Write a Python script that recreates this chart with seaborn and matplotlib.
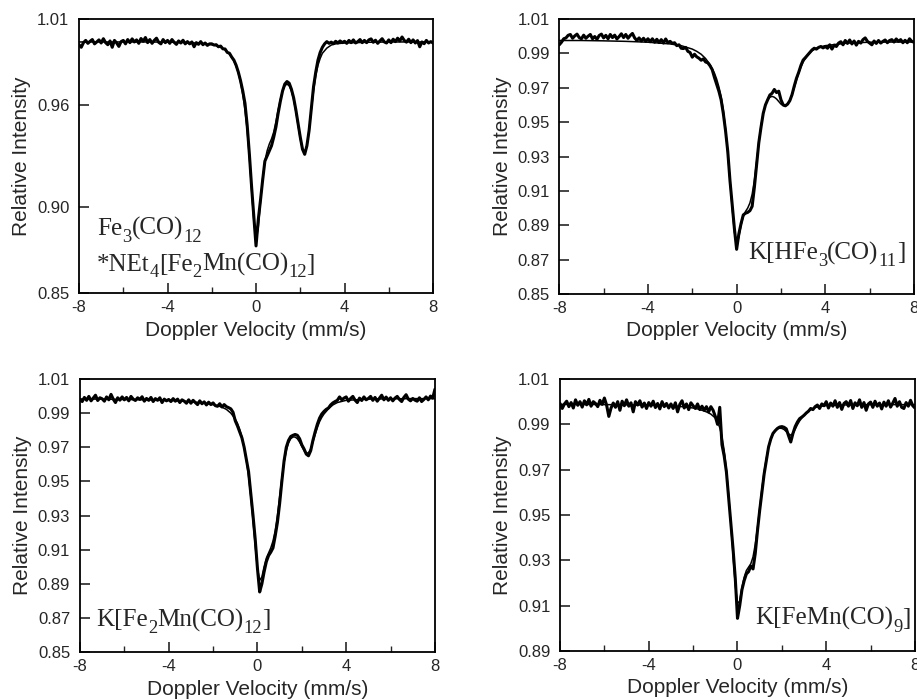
import numpy as np
import pandas as pd
import matplotlib
matplotlib.use("Agg")
import matplotlib.pyplot as plt
from matplotlib.ticker import FixedLocator, FixedFormatter, MultipleLocator
from matplotlib.transforms import IdentityTransform
import seaborn as sns

# ---------------- data ----------------
# channel velocities of the measured spectra (mm/s), 0.1 mm/s per channel
velocity = np.linspace(-8.0, 8.0, 161)

# Fe3(CO)12 / *NEt4[Fe2Mn(CO)12]
spec_a = [
    0.9950, 0.9935, 0.9962, 0.9975, 0.9958, 0.9970, 0.9980, 0.9955, 0.9966, 0.9978,
    0.9960, 0.9985, 0.9962, 0.9950, 0.9972, 0.9935, 0.9975, 0.9960, 0.9940, 0.9968,
    0.9975, 0.9955, 0.9980, 0.9962, 0.9984, 0.9966, 0.9978, 0.9958, 0.9986, 0.9970,
    0.9992, 0.9962, 0.9980, 0.9958, 0.9975, 0.9988, 0.9964, 0.9955, 0.9980, 0.9962,
    0.9975, 0.9958, 0.9980, 0.9964, 0.9952, 0.9972, 0.9960, 0.9976, 0.9955, 0.9968,
    0.9955, 0.9966, 0.9938, 0.9962, 0.9952, 0.9968, 0.9950, 0.9960, 0.9946, 0.9955,
    0.9955, 0.9948, 0.9950, 0.9938, 0.9942, 0.9926, 0.9925, 0.9905, 0.9900, 0.9878,
    0.9860, 0.9830, 0.9790, 0.9740, 0.9680, 0.9608, 0.9480, 0.9310, 0.9120, 0.8950,
    0.8775, 0.8926, 0.9040, 0.9160, 0.9270, 0.9300, 0.9330, 0.9360, 0.9410, 0.9470,
    0.9550, 0.9620, 0.9680, 0.9720, 0.9735, 0.9725, 0.9690, 0.9640, 0.9570, 0.9490,
    0.9410, 0.9340, 0.9310, 0.9360, 0.9450, 0.9580, 0.9705, 0.9790, 0.9860, 0.9905,
    0.9935, 0.9955, 0.9968, 0.9958, 0.9965, 0.9956, 0.9970, 0.9960, 0.9972, 0.9962,
    0.9970, 0.9958, 0.9975, 0.9962, 0.9978, 0.9960, 0.9968, 0.9980, 0.9962, 0.9975,
    0.9962, 0.9978, 0.9984, 0.9964, 0.9976, 0.9958, 0.9972, 0.9985, 0.9966, 0.9960,
    0.9978, 0.9962, 0.9982, 0.9968, 0.9988, 0.9972, 0.9995, 0.9975, 0.9965, 0.9982,
    0.9962, 0.9978, 0.9960, 0.9974, 0.9938, 0.9966, 0.9956, 0.9975, 0.9960, 0.9968,
    0.9960,
]

# K[HFe3(CO)11]
spec_b = [
    0.9950, 0.9965, 0.9985, 0.9990, 1.0005, 1.0010, 0.9988, 1.0002, 1.0012, 0.9992,
    0.9985, 1.0006, 0.9988, 1.0000, 1.0010, 0.9985, 0.9998, 0.9982, 1.0004, 1.0012,
    0.9990, 1.0005, 0.9985, 1.0010, 0.9992, 1.0006, 0.9984, 0.9998, 1.0014, 0.9992,
    1.0010, 0.9988, 1.0004, 1.0016, 0.9990, 0.9975, 0.9990, 0.9972, 0.9988, 0.9970,
    0.9985, 0.9968, 0.9985, 0.9965, 0.9982, 0.9963, 0.9980, 0.9960, 0.9984, 0.9962,
    0.9970, 0.9958, 0.9962, 0.9945, 0.9950, 0.9930, 0.9928, 0.9935, 0.9912, 0.9905,
    0.9878, 0.9895, 0.9880, 0.9872, 0.9860, 0.9868, 0.9850, 0.9845, 0.9828, 0.9805,
    0.9760, 0.9720, 0.9680, 0.9630, 0.9550, 0.9450, 0.9330, 0.9160, 0.9020, 0.8880,
    0.8760, 0.8850, 0.8910, 0.8960, 0.8970, 0.8975, 0.8985, 0.9010, 0.9120, 0.9250,
    0.9380, 0.9470, 0.9551, 0.9600, 0.9630, 0.9658, 0.9668, 0.9690, 0.9672, 0.9680,
    0.9630, 0.9600, 0.9595, 0.9605, 0.9625, 0.9660, 0.9710, 0.9755, 0.9790, 0.9830,
    0.9861, 0.9875, 0.9890, 0.9905, 0.9920, 0.9930, 0.9925, 0.9935, 0.9940, 0.9932,
    0.9940, 0.9930, 0.9950, 0.9925, 0.9948, 0.9940, 0.9960, 0.9968, 0.9950, 0.9975,
    0.9958, 0.9978, 0.9955, 0.9972, 0.9948, 0.9970, 0.9960, 0.9980, 0.9990, 0.9970,
    0.9960, 0.9950, 0.9972, 0.9958, 0.9975, 0.9960, 0.9970, 0.9978, 0.9962, 0.9975,
    0.9980, 0.9966, 0.9984, 0.9970, 0.9980, 0.9962, 0.9976, 0.9962, 0.9985, 0.9970,
    0.9965,
]

# K[Fe2Mn(CO)12]
spec_c = [
    0.9980, 0.9968, 0.9992, 0.9975, 0.9998, 0.9972, 0.9988, 1.0005, 0.9974, 0.9990,
    0.9984, 0.9970, 0.9995, 0.9978, 1.0010, 0.9982, 0.9962, 0.9990, 0.9976, 0.9995,
    0.9978, 0.9992, 0.9972, 0.9998, 0.9982, 0.9974, 0.9990, 0.9980, 0.9996, 0.9970,
    0.9986, 0.9975, 0.9992, 0.9968, 0.9985, 0.9975, 0.9990, 0.9962, 0.9982, 0.9972,
    0.9980, 0.9968, 0.9985, 0.9970, 0.9982, 0.9962, 0.9978, 0.9970, 0.9958, 0.9978,
    0.9958, 0.9975, 0.9962, 0.9950, 0.9972, 0.9955, 0.9966, 0.9948, 0.9964, 0.9950,
    0.9960, 0.9944, 0.9940, 0.9955, 0.9936, 0.9950, 0.9938, 0.9932, 0.9925, 0.9905,
    0.9855, 0.9825, 0.9790, 0.9755, 0.9700, 0.9630, 0.9557, 0.9430, 0.9300, 0.9160,
    0.8990, 0.8852, 0.8900, 0.8970, 0.9029, 0.9065, 0.9085, 0.9110, 0.9180, 0.9260,
    0.9370, 0.9500, 0.9620, 0.9700, 0.9740, 0.9763, 0.9770, 0.9775, 0.9770, 0.9750,
    0.9714, 0.9690, 0.9660, 0.9650, 0.9680, 0.9740, 0.9790, 0.9835, 0.9871, 0.9895,
    0.9910, 0.9922, 0.9930, 0.9948, 0.9960, 0.9968, 0.9975, 0.9995, 0.9978, 0.9988,
    0.9995, 0.9970, 0.9986, 0.9998, 0.9976, 0.9962, 0.9988, 0.9974, 0.9995, 0.9978,
    0.9986, 0.9998, 0.9975, 0.9992, 0.9970, 0.9988, 1.0005, 0.9978, 0.9994, 0.9975,
    0.9990, 0.9972, 0.9988, 0.9998, 0.9980, 0.9968, 0.9992, 1.0008, 0.9982, 0.9972,
    0.9986, 0.9976, 0.9970, 0.9990, 0.9968, 0.9980, 0.9995, 0.9978, 1.0000, 0.9988,
    1.0040,
]

# K[FeMn(CO)9]
spec_d = [
    0.9992, 0.9970, 0.9990, 1.0002, 0.9978, 0.9996, 0.9972, 1.0008, 0.9984, 1.0000,
    0.9976, 1.0004, 0.9986, 1.0010, 0.9980, 1.0000, 0.9992, 0.9978, 1.0006, 0.9988,
    1.0016, 0.9985, 0.9935, 0.9972, 0.9994, 0.9975, 1.0000, 0.9962, 1.0002, 0.9982,
    1.0008, 0.9980, 0.9995, 0.9955, 1.0000, 0.9985, 1.0004, 0.9976, 0.9994, 0.9970,
    0.9996, 0.9980, 1.0002, 0.9974, 0.9992, 0.9968, 1.0000, 0.9978, 0.9992, 0.9972,
    0.9990, 0.9970, 0.9995, 0.9955, 0.9988, 1.0004, 0.9972, 0.9990, 0.9965, 0.9995,
    0.9982, 0.9970, 0.9990, 0.9965, 0.9980, 0.9962, 0.9978, 0.9955, 0.9978, 0.9962,
    0.9935, 0.9900, 0.9975, 0.9810, 0.9760, 0.9690, 0.9575, 0.9465, 0.9350, 0.9220,
    0.9044, 0.9100, 0.9170, 0.9210, 0.9240, 0.9250, 0.9275, 0.9262, 0.9330, 0.9430,
    0.9520, 0.9600, 0.9680, 0.9740, 0.9800, 0.9835, 0.9860, 0.9872, 0.9882, 0.9888,
    0.9890, 0.9887, 0.9880, 0.9850, 0.9822, 0.9860, 0.9890, 0.9910, 0.9925, 0.9932,
    0.9940, 0.9950, 0.9958, 0.9970, 0.9965, 0.9978, 0.9985, 0.9970, 0.9990, 0.9982,
    1.0000, 0.9972, 0.9994, 0.9980, 1.0004, 0.9975, 0.9996, 0.9966, 0.9992, 1.0000,
    0.9980, 1.0005, 0.9970, 0.9995, 0.9982, 1.0008, 0.9975, 0.9996, 0.9962, 0.9990,
    0.9998, 0.9975, 1.0002, 0.9980, 0.9994, 0.9968, 0.9998, 0.9980, 1.0004, 0.9976,
    0.9994, 1.0014, 0.9980, 1.0000, 0.9975, 0.9970, 0.9996, 0.9980, 1.0006, 0.9982,
    0.9972,
]

# fitted curves, read at these velocities
fit_velocity = [
    -8, -7, -6, -5, -4, -3, -2.5, -2, -1.8, -1.6, -1.4, -1.2, -1.0, -0.9, -0.8,
    -0.7, -0.6, -0.5, -0.4, -0.3, -0.2, -0.1, 0, 0.1, 0.2, 0.3, 0.4, 0.5, 0.6,
    0.7, 0.8, 0.9, 1.0, 1.1, 1.2, 1.3, 1.4, 1.5, 1.6, 1.7, 1.8, 1.9, 2.0, 2.1,
    2.2, 2.3, 2.4, 2.5, 2.6, 2.7, 2.8, 2.9, 3.0, 3.2, 3.4, 3.6, 4, 5, 6, 7, 8,
]
fit_a = [
    0.9966, 0.9966, 0.9966, 0.9966, 0.9965, 0.9962, 0.9958, 0.9950, 0.9944, 0.9935,
    0.9920, 0.9895, 0.9855, 0.9825, 0.9785, 0.9730, 0.9660, 0.9570, 0.9450, 0.9290,
    0.9100, 0.8920, 0.8810, 0.8880, 0.9030, 0.9170, 0.9270, 0.9330, 0.9370, 0.9400,
    0.9440, 0.9500, 0.9570, 0.9630, 0.9680, 0.9710, 0.9720, 0.9710, 0.9680, 0.9630,
    0.9560, 0.9480, 0.9400, 0.9340, 0.9320, 0.9360, 0.9450, 0.9570, 0.9680, 0.9770,
    0.9830, 0.9870, 0.9900, 0.9930, 0.9948, 0.9955, 0.9960, 0.9964, 0.9966, 0.9966,
    0.9966,
]
fit_b = [
    0.9975, 0.9975, 0.9973, 0.9970, 0.9965, 0.9955, 0.9945, 0.9925, 0.9912, 0.9895,
    0.9870, 0.9835, 0.9785, 0.9750, 0.9705, 0.9650, 0.9570, 0.9460, 0.9320, 0.9160,
    0.9000, 0.8860, 0.8790, 0.8830, 0.8900, 0.8950, 0.8980, 0.9000, 0.9030, 0.9080,
    0.9160, 0.9270, 0.9380, 0.9480, 0.9550, 0.9600, 0.9630, 0.9645, 0.9650, 0.9645,
    0.9635, 0.9620, 0.9605, 0.9597, 0.9595, 0.9605, 0.9625, 0.9660, 0.9700, 0.9745,
    0.9785, 0.9820, 0.9850, 0.9890, 0.9915, 0.9930, 0.9945, 0.9960, 0.9965, 0.9966,
    0.9966,
]
fit_c = [
    0.9983, 0.9982, 0.9980, 0.9978, 0.9975, 0.9967, 0.9960, 0.9950, 0.9944, 0.9935,
    0.9922, 0.9900, 0.9865, 0.9840, 0.9805, 0.9760, 0.9700, 0.9625, 0.9530, 0.9410,
    0.9270, 0.9120, 0.8990, 0.8920, 0.8940, 0.9000, 0.9050, 0.9080, 0.9110, 0.9150,
    0.9210, 0.9300, 0.9410, 0.9520, 0.9610, 0.9680, 0.9725, 0.9750, 0.9760, 0.9760,
    0.9750, 0.9730, 0.9705, 0.9680, 0.9665, 0.9668, 0.9690, 0.9730, 0.9775, 0.9815,
    0.9850, 0.9875, 0.9895, 0.9925, 0.9948, 0.9962, 0.9975, 0.9982, 0.9984, 0.9985,
    0.9985,
]
fit_d = [
    0.9988, 0.9988, 0.9987, 0.9986, 0.9985, 0.9982, 0.9978, 0.9972, 0.9968, 0.9962,
    0.9955, 0.9945, 0.9928, 0.9912, 0.9885, 0.9845, 0.9785, 0.9700, 0.9590, 0.9460,
    0.9320, 0.9190, 0.9110, 0.9120, 0.9180, 0.9225, 0.9255, 0.9270, 0.9285, 0.9315,
    0.9370, 0.9445, 0.9530, 0.9615, 0.9690, 0.9750, 0.9800, 0.9835, 0.9858, 0.9872,
    0.9880, 0.9883, 0.9882, 0.9877, 0.9868, 0.9858, 0.9852, 0.9860, 0.9878, 0.9898,
    0.9915, 0.9928, 0.9940, 0.9958, 0.9970, 0.9977, 0.9983, 0.9986, 0.9987, 0.9987,
    0.9987,
]

# sample labels as (text, is_subscript) pieces, one list per text line
sample_labels = [
    [[("Fe", 0), ("3", 1), ("(CO)", 0), ("12", 1)],
     [("*NEt", 0), ("4", 1), ("[Fe", 0), ("2", 1), ("Mn(CO)", 0), ("12", 1), ("]", 0)]],
    [[("K[HFe", 0), ("3", 1), ("(CO)", 0), ("11", 1), ("]", 0)]],
    [[("K[Fe", 0), ("2", 1), ("Mn(CO)", 0), ("12", 1), ("]", 0)]],
    [[("K[FeMn(CO)", 0), ("9", 1), ("]", 0)]],
]
y_limits = [(0.85, 1.01), (0.85, 1.01), (0.85, 1.01), (0.89, 1.01)]
y_ticks = [
    [0.85, 0.90, 0.96, 1.01],
    [0.85, 0.87, 0.89, 0.91, 0.93, 0.95, 0.97, 0.99, 1.01],
    [0.85, 0.87, 0.89, 0.91, 0.93, 0.95, 0.97, 0.99, 1.01],
    [0.89, 0.91, 0.93, 0.95, 0.97, 0.99, 1.01],
]
x_ticks = [-8, -4, 0, 4, 8]
x_tick_labels = ["-8", "-4", "0", "4", "8"]

# ---------------- styling ----------------
sns.set_style("ticks")
plt.rcParams["font.family"] = ["Liberation Sans", "DejaVu Sans"]

fig = plt.figure(figsize=(9.17, 6.99), dpi=100)
renderer = fig.canvas.get_renderer()

positions = [
    [0.0862, 0.5808, 0.3860, 0.3920],
    [0.6099, 0.5794, 0.3868, 0.3934],
    [0.0872, 0.0672, 0.3871, 0.3906],
    [0.6107, 0.0687, 0.3871, 0.3891],
]
# anchor (axes fraction) and alignment of each label; baselines per line
label_anchor = [
    dict(x=0.051, ys=[0.2117, 0.0814], ha="left"),
    dict(x=0.975, ys=[0.126], ha="right"),
    dict(x=0.047, ys=[0.095], ha="left"),
    dict(x=0.988, ys=[0.096], ha="right"),
]
LABEL_SIZE = 18
SUB_SCALE = 0.74
SUB_DROP = 0.27  # fraction of the font size (in px)
serif = ["Liberation Serif", "DejaVu Serif"]


def draw_formula(ax, anchor):
    px_per_pt = fig.dpi / 72.0
    for line, yfrac in zip(sample_labels[label_anchor.index(anchor)], anchor["ys"]):
        x0, y0 = ax.transAxes.transform((anchor["x"], yfrac))
        pieces = []
        total = 0.0
        for s, sub in line:
            size = LABEL_SIZE * (SUB_SCALE if sub else 1.0)
            t = fig.text(0, 0, s, fontsize=size, family=serif,
                         transform=IdentityTransform(), va="baseline")
            w = t.get_window_extent(renderer).width
            pieces.append((t, w, sub))
            total += w
        x = x0 if anchor["ha"] == "left" else x0 - total
        for t, w, sub in pieces:
            y = y0 - (SUB_DROP * LABEL_SIZE * px_per_pt if sub else 0.0)
            t.set_position((x, y))
            x += w


spectra = [spec_a, spec_b, spec_c, spec_d]
fits = [fit_a, fit_b, fit_c, fit_d]

for i in range(4):
    ax = fig.add_axes(positions[i])
    df_data = pd.DataFrame({"v": velocity, "I": spectra[i]})
    df_fit = pd.DataFrame({"v": fit_velocity, "I": fits[i]})
    sns.lineplot(data=df_data, x="v", y="I", ax=ax, color="black",
                 linewidth=2.2, estimator=None, sort=False)
    sns.lineplot(data=df_fit, x="v", y="I", ax=ax, color="black",
                 linewidth=1.1, estimator=None, sort=False)
    ax.set_xlim(-8, 8)
    ax.set_ylim(*y_limits[i])
    ax.xaxis.set_major_locator(FixedLocator(x_ticks))
    ax.xaxis.set_major_formatter(FixedFormatter(x_tick_labels))
    ax.xaxis.set_minor_locator(MultipleLocator(2))
    ax.yaxis.set_major_locator(FixedLocator(y_ticks[i]))
    ax.yaxis.set_major_formatter(FixedFormatter([f"{t:.2f}" for t in y_ticks[i]]))
    ax.tick_params(axis="both", which="major", direction="in", length=7,
                   width=1.2, labelsize=12, pad=7, top=False, right=False)
    ax.tick_params(axis="x", which="major", pad=5)
    ax.tick_params(axis="x", which="minor", direction="in", length=4,
                   width=1.0, top=False)
    for s in ax.spines.values():
        s.set_linewidth(1.3)
        s.set_color("black")
    ax.set_xlabel("Doppler Velocity (mm/s)", fontsize=15, labelpad=4)
    ax.set_ylabel("Relative Intensity", fontsize=15, labelpad=4)
    draw_formula(ax, label_anchor[i])

fig.savefig("out.png", dpi=100)
